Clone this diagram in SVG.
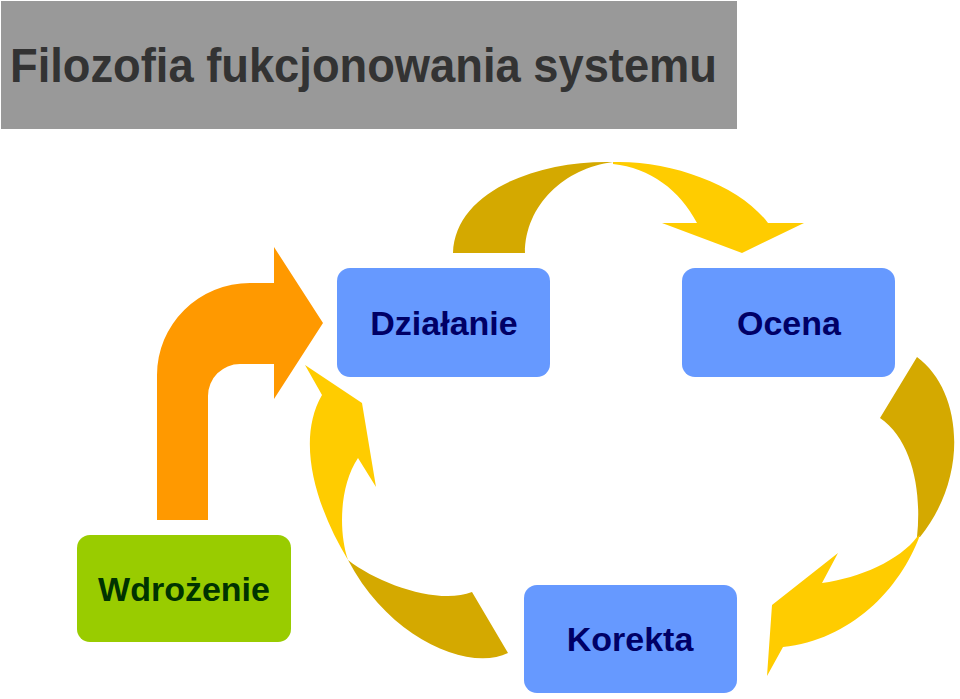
<svg xmlns="http://www.w3.org/2000/svg" width="960" height="699" viewBox="0 0 960 699">
<style>
.box{fill:#6699FF}
.lbl{font-family:"Liberation Sans",Arial,sans-serif;font-weight:bold;font-size:34px;text-anchor:middle;fill:#000066}
.dark{fill:#D4A900}
.light{fill:#FFCC00}
</style>
<rect width="960" height="699" fill="#ffffff"/>
<g id="title">
<rect x="1" y="1" width="736" height="128" fill="#999999"/>
<text x="10" y="82" font-family="'Liberation Sans',Arial,sans-serif" font-weight="bold" font-size="48" fill="#333333" textLength="707" lengthAdjust="spacingAndGlyphs">Filozofia fukcjonowania systemu</text>
</g>
<g id="connectors">
<path id="arrow-wdrozenie-dzialanie" fill="#FF9900" d="M157,520 L157,375 A93,92 0 0 1 250,283 L274,283 L274,247 L323,323 L274,399 L274,364 L240,364 A32,32 0 0 0 208,396 L208,520 Z"/>
<g id="arrow-dzialanie-ocena">
<path class="dark" d="M453,253 C455,190 540,160 613,162 C565,168 525,205 525,253 Z"/>
<path class="light" d="M613,162 C670,160 740,185 768,223 L804,223 L742,253 L662,223 L697,223 C680,190 650,168 613,164 Z"/>
</g>
<g id="arrow-ocena-korekta">
<path class="dark" d="M917,357 C962,390 970,475 920,537 L917,537 C922,490 912,440 880,418 Z"/>
<path class="light" d="M920,535 C900,590 850,640 783,647 L767,676 L772,605 L838,553 L822,583 C860,578 900,560 917,537 Z"/>
</g>
<g id="arrow-korekta-dzialanie">
<path class="dark" d="M508,653 C470,672 390,640 348,560 C380,585 440,605 472,592 Z"/>
<path class="light" d="M348,560 C315,505 296,440 322,395 L305,365 L362,403 L376,487 L358,458 C340,485 338,530 348,560 Z"/>
</g>
</g>
<g id="dzialanie">
<rect class="box" x="337" y="268" width="213" height="109" rx="13"/>
<text class="lbl" x="444" y="335">Działanie</text>
</g>
<g id="ocena">
<rect class="box" x="682" y="268" width="213" height="109" rx="13"/>
<text class="lbl" x="789" y="335">Ocena</text>
</g>
<g id="korekta">
<rect class="box" x="524" y="585" width="213" height="108" rx="13"/>
<text class="lbl" x="630" y="651">Korekta</text>
</g>
<g id="wdrozenie">
<rect x="77" y="535" width="214" height="107" rx="13" fill="#99CC00"/>
<text class="lbl" x="184" y="601" style="fill:#003300">Wdrożenie</text>
</g>
</svg>
